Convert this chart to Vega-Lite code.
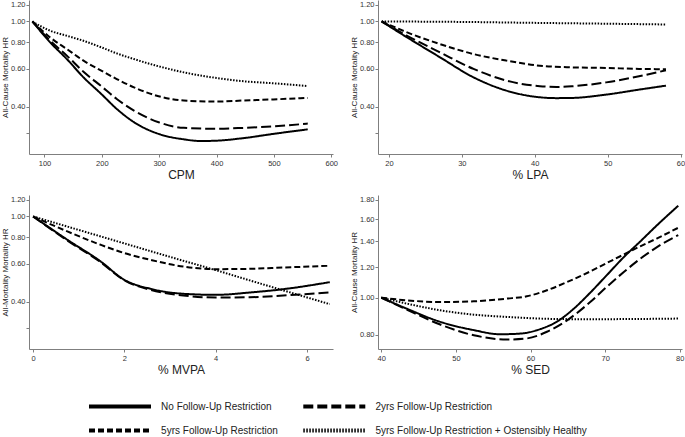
{
  "$schema": "https://vega.github.io/schema/vega-lite/v6.json",
  "background": "white",
  "padding": {"left": 1, "top": 0, "right": 0, "bottom": 0},
  "bounds": "flush",
  "columns": 2,
  "spacing": {"row": 41, "column": 45},
  "data": {"values": [
    {"p":"CPM","g":"No Follow-Up Restriction","x":79,"hr":1.0},
    {"p":"CPM","g":"No Follow-Up Restriction","x":110,"hr":0.798},
    {"p":"CPM","g":"No Follow-Up Restriction","x":139,"hr":0.667},
    {"p":"CPM","g":"No Follow-Up Restriction","x":168,"hr":0.548},
    {"p":"CPM","g":"No Follow-Up Restriction","x":199,"hr":0.458},
    {"p":"CPM","g":"No Follow-Up Restriction","x":226,"hr":0.39},
    {"p":"CPM","g":"No Follow-Up Restriction","x":256,"hr":0.338},
    {"p":"CPM","g":"No Follow-Up Restriction","x":299,"hr":0.298},
    {"p":"CPM","g":"No Follow-Up Restriction","x":343,"hr":0.281},
    {"p":"CPM","g":"No Follow-Up Restriction","x":372,"hr":0.276},
    {"p":"CPM","g":"No Follow-Up Restriction","x":400,"hr":0.277},
    {"p":"CPM","g":"No Follow-Up Restriction","x":448,"hr":0.285},
    {"p":"CPM","g":"No Follow-Up Restriction","x":499,"hr":0.298},
    {"p":"CPM","g":"No Follow-Up Restriction","x":559,"hr":0.313},
    {"p":"CPM","g":"2yrs Follow-Up Restriction","x":79,"hr":1.0},
    {"p":"CPM","g":"2yrs Follow-Up Restriction","x":110,"hr":0.813},
    {"p":"CPM","g":"2yrs Follow-Up Restriction","x":139,"hr":0.692},
    {"p":"CPM","g":"2yrs Follow-Up Restriction","x":168,"hr":0.582},
    {"p":"CPM","g":"2yrs Follow-Up Restriction","x":199,"hr":0.498},
    {"p":"CPM","g":"2yrs Follow-Up Restriction","x":226,"hr":0.434},
    {"p":"CPM","g":"2yrs Follow-Up Restriction","x":256,"hr":0.383},
    {"p":"CPM","g":"2yrs Follow-Up Restriction","x":299,"hr":0.338},
    {"p":"CPM","g":"2yrs Follow-Up Restriction","x":343,"hr":0.318},
    {"p":"CPM","g":"2yrs Follow-Up Restriction","x":400,"hr":0.315},
    {"p":"CPM","g":"2yrs Follow-Up Restriction","x":448,"hr":0.318},
    {"p":"CPM","g":"2yrs Follow-Up Restriction","x":499,"hr":0.323},
    {"p":"CPM","g":"2yrs Follow-Up Restriction","x":559,"hr":0.333},
    {"p":"CPM","g":"5yrs Follow-Up Restriction","x":79,"hr":1.0},
    {"p":"CPM","g":"5yrs Follow-Up Restriction","x":110,"hr":0.842},
    {"p":"CPM","g":"5yrs Follow-Up Restriction","x":139,"hr":0.743},
    {"p":"CPM","g":"5yrs Follow-Up Restriction","x":168,"hr":0.656},
    {"p":"CPM","g":"5yrs Follow-Up Restriction","x":199,"hr":0.589},
    {"p":"CPM","g":"5yrs Follow-Up Restriction","x":226,"hr":0.538},
    {"p":"CPM","g":"5yrs Follow-Up Restriction","x":256,"hr":0.492},
    {"p":"CPM","g":"5yrs Follow-Up Restriction","x":299,"hr":0.447},
    {"p":"CPM","g":"5yrs Follow-Up Restriction","x":343,"hr":0.427},
    {"p":"CPM","g":"5yrs Follow-Up Restriction","x":400,"hr":0.422},
    {"p":"CPM","g":"5yrs Follow-Up Restriction","x":448,"hr":0.427},
    {"p":"CPM","g":"5yrs Follow-Up Restriction","x":499,"hr":0.432},
    {"p":"CPM","g":"5yrs Follow-Up Restriction","x":559,"hr":0.439},
    {"p":"CPM","g":"5yrs Follow-Up Restriction + Ostensibly Healthy","x":79,"hr":1.0},
    {"p":"CPM","g":"5yrs Follow-Up Restriction + Ostensibly Healthy","x":92,"hr":0.954},
    {"p":"CPM","g":"5yrs Follow-Up Restriction + Ostensibly Healthy","x":110,"hr":0.905},
    {"p":"CPM","g":"5yrs Follow-Up Restriction + Ostensibly Healthy","x":139,"hr":0.857},
    {"p":"CPM","g":"5yrs Follow-Up Restriction + Ostensibly Healthy","x":168,"hr":0.812},
    {"p":"CPM","g":"5yrs Follow-Up Restriction + Ostensibly Healthy","x":199,"hr":0.757},
    {"p":"CPM","g":"5yrs Follow-Up Restriction + Ostensibly Healthy","x":226,"hr":0.709},
    {"p":"CPM","g":"5yrs Follow-Up Restriction + Ostensibly Healthy","x":256,"hr":0.667},
    {"p":"CPM","g":"5yrs Follow-Up Restriction + Ostensibly Healthy","x":299,"hr":0.617},
    {"p":"CPM","g":"5yrs Follow-Up Restriction + Ostensibly Healthy","x":343,"hr":0.578},
    {"p":"CPM","g":"5yrs Follow-Up Restriction + Ostensibly Healthy","x":400,"hr":0.544},
    {"p":"CPM","g":"5yrs Follow-Up Restriction + Ostensibly Healthy","x":448,"hr":0.525},
    {"p":"CPM","g":"5yrs Follow-Up Restriction + Ostensibly Healthy","x":499,"hr":0.514},
    {"p":"CPM","g":"5yrs Follow-Up Restriction + Ostensibly Healthy","x":559,"hr":0.499},

    {"p":"LPA","g":"No Follow-Up Restriction","x":19,"hr":1.0},
    {"p":"LPA","g":"No Follow-Up Restriction","x":22.5,"hr":0.842},
    {"p":"LPA","g":"No Follow-Up Restriction","x":27,"hr":0.68},
    {"p":"LPA","g":"No Follow-Up Restriction","x":31.6,"hr":0.548},
    {"p":"LPA","g":"No Follow-Up Restriction","x":36.1,"hr":0.475},
    {"p":"LPA","g":"No Follow-Up Restriction","x":40.7,"hr":0.442},
    {"p":"LPA","g":"No Follow-Up Restriction","x":43,"hr":0.438},
    {"p":"LPA","g":"No Follow-Up Restriction","x":45.2,"hr":0.439},
    {"p":"LPA","g":"No Follow-Up Restriction","x":49.8,"hr":0.455},
    {"p":"LPA","g":"No Follow-Up Restriction","x":54.3,"hr":0.48},
    {"p":"LPA","g":"No Follow-Up Restriction","x":58,"hr":0.501},
    {"p":"LPA","g":"2yrs Follow-Up Restriction","x":19,"hr":1.0},
    {"p":"LPA","g":"2yrs Follow-Up Restriction","x":22.5,"hr":0.857},
    {"p":"LPA","g":"2yrs Follow-Up Restriction","x":27,"hr":0.717},
    {"p":"LPA","g":"2yrs Follow-Up Restriction","x":31.6,"hr":0.6},
    {"p":"LPA","g":"2yrs Follow-Up Restriction","x":36.1,"hr":0.529},
    {"p":"LPA","g":"2yrs Follow-Up Restriction","x":40.7,"hr":0.498},
    {"p":"LPA","g":"2yrs Follow-Up Restriction","x":43,"hr":0.494},
    {"p":"LPA","g":"2yrs Follow-Up Restriction","x":45.2,"hr":0.498},
    {"p":"LPA","g":"2yrs Follow-Up Restriction","x":49.8,"hr":0.519},
    {"p":"LPA","g":"2yrs Follow-Up Restriction","x":54.3,"hr":0.554},
    {"p":"LPA","g":"2yrs Follow-Up Restriction","x":58,"hr":0.591},
    {"p":"LPA","g":"5yrs Follow-Up Restriction","x":19,"hr":1.0},
    {"p":"LPA","g":"5yrs Follow-Up Restriction","x":22.5,"hr":0.889},
    {"p":"LPA","g":"5yrs Follow-Up Restriction","x":27,"hr":0.784},
    {"p":"LPA","g":"5yrs Follow-Up Restriction","x":31.6,"hr":0.704},
    {"p":"LPA","g":"5yrs Follow-Up Restriction","x":36.1,"hr":0.656},
    {"p":"LPA","g":"5yrs Follow-Up Restriction","x":40.7,"hr":0.621},
    {"p":"LPA","g":"5yrs Follow-Up Restriction","x":45.2,"hr":0.61},
    {"p":"LPA","g":"5yrs Follow-Up Restriction","x":49.8,"hr":0.606},
    {"p":"LPA","g":"5yrs Follow-Up Restriction","x":54.3,"hr":0.6},
    {"p":"LPA","g":"5yrs Follow-Up Restriction","x":58,"hr":0.598},
    {"p":"LPA","g":"5yrs Follow-Up Restriction + Ostensibly Healthy","x":19,"hr":1.0},
    {"p":"LPA","g":"5yrs Follow-Up Restriction + Ostensibly Healthy","x":30,"hr":0.995},
    {"p":"LPA","g":"5yrs Follow-Up Restriction + Ostensibly Healthy","x":40,"hr":0.985},
    {"p":"LPA","g":"5yrs Follow-Up Restriction + Ostensibly Healthy","x":50,"hr":0.976},
    {"p":"LPA","g":"5yrs Follow-Up Restriction + Ostensibly Healthy","x":58,"hr":0.968},

    {"p":"MVPA","g":"No Follow-Up Restriction","x":0,"hr":1.0},
    {"p":"MVPA","g":"No Follow-Up Restriction","x":0.75,"hr":0.778},
    {"p":"MVPA","g":"No Follow-Up Restriction","x":1.48,"hr":0.616},
    {"p":"MVPA","g":"No Follow-Up Restriction","x":2,"hr":0.505},
    {"p":"MVPA","g":"No Follow-Up Restriction","x":2.57,"hr":0.459},
    {"p":"MVPA","g":"No Follow-Up Restriction","x":3.29,"hr":0.435},
    {"p":"MVPA","g":"No Follow-Up Restriction","x":4,"hr":0.43},
    {"p":"MVPA","g":"No Follow-Up Restriction","x":4.75,"hr":0.441},
    {"p":"MVPA","g":"No Follow-Up Restriction","x":5.48,"hr":0.457},
    {"p":"MVPA","g":"No Follow-Up Restriction","x":6.5,"hr":0.493},
    {"p":"MVPA","g":"2yrs Follow-Up Restriction","x":0,"hr":1.0},
    {"p":"MVPA","g":"2yrs Follow-Up Restriction","x":0.75,"hr":0.772},
    {"p":"MVPA","g":"2yrs Follow-Up Restriction","x":1.48,"hr":0.611},
    {"p":"MVPA","g":"2yrs Follow-Up Restriction","x":2,"hr":0.503},
    {"p":"MVPA","g":"2yrs Follow-Up Restriction","x":2.57,"hr":0.454},
    {"p":"MVPA","g":"2yrs Follow-Up Restriction","x":3.29,"hr":0.427},
    {"p":"MVPA","g":"2yrs Follow-Up Restriction","x":4,"hr":0.418},
    {"p":"MVPA","g":"2yrs Follow-Up Restriction","x":4.75,"hr":0.419},
    {"p":"MVPA","g":"2yrs Follow-Up Restriction","x":5.48,"hr":0.427},
    {"p":"MVPA","g":"2yrs Follow-Up Restriction","x":6.5,"hr":0.441},
    {"p":"MVPA","g":"5yrs Follow-Up Restriction","x":0,"hr":1.0},
    {"p":"MVPA","g":"5yrs Follow-Up Restriction","x":0.75,"hr":0.851},
    {"p":"MVPA","g":"5yrs Follow-Up Restriction","x":1.48,"hr":0.737},
    {"p":"MVPA","g":"5yrs Follow-Up Restriction","x":2,"hr":0.674},
    {"p":"MVPA","g":"5yrs Follow-Up Restriction","x":2.57,"hr":0.627},
    {"p":"MVPA","g":"5yrs Follow-Up Restriction","x":3.29,"hr":0.583},
    {"p":"MVPA","g":"5yrs Follow-Up Restriction","x":4,"hr":0.567},
    {"p":"MVPA","g":"5yrs Follow-Up Restriction","x":4.75,"hr":0.569},
    {"p":"MVPA","g":"5yrs Follow-Up Restriction","x":5.48,"hr":0.577},
    {"p":"MVPA","g":"5yrs Follow-Up Restriction","x":6.5,"hr":0.588},
    {"p":"MVPA","g":"5yrs Follow-Up Restriction + Ostensibly Healthy","x":0,"hr":1.0},
    {"p":"MVPA","g":"5yrs Follow-Up Restriction + Ostensibly Healthy","x":1,"hr":0.865},
    {"p":"MVPA","g":"5yrs Follow-Up Restriction + Ostensibly Healthy","x":2,"hr":0.748},
    {"p":"MVPA","g":"5yrs Follow-Up Restriction + Ostensibly Healthy","x":3,"hr":0.647},
    {"p":"MVPA","g":"5yrs Follow-Up Restriction + Ostensibly Healthy","x":4,"hr":0.561},
    {"p":"MVPA","g":"5yrs Follow-Up Restriction + Ostensibly Healthy","x":5,"hr":0.484},
    {"p":"MVPA","g":"5yrs Follow-Up Restriction + Ostensibly Healthy","x":6.5,"hr":0.389},

    {"p":"SED","g":"No Follow-Up Restriction","x":40,"hr":1.0},
    {"p":"SED","g":"No Follow-Up Restriction","x":43.4,"hr":0.936},
    {"p":"SED","g":"No Follow-Up Restriction","x":47.9,"hr":0.865},
    {"p":"SED","g":"No Follow-Up Restriction","x":52.4,"hr":0.823},
    {"p":"SED","g":"No Follow-Up Restriction","x":55.9,"hr":0.803},
    {"p":"SED","g":"No Follow-Up Restriction","x":58.6,"hr":0.806},
    {"p":"SED","g":"No Follow-Up Restriction","x":61.3,"hr":0.828},
    {"p":"SED","g":"No Follow-Up Restriction","x":63.5,"hr":0.865},
    {"p":"SED","g":"No Follow-Up Restriction","x":65.8,"hr":0.936},
    {"p":"SED","g":"No Follow-Up Restriction","x":68,"hr":1.03},
    {"p":"SED","g":"No Follow-Up Restriction","x":70.2,"hr":1.143},
    {"p":"SED","g":"No Follow-Up Restriction","x":72.5,"hr":1.275},
    {"p":"SED","g":"No Follow-Up Restriction","x":74.7,"hr":1.4},
    {"p":"SED","g":"No Follow-Up Restriction","x":76.9,"hr":1.54},
    {"p":"SED","g":"No Follow-Up Restriction","x":79.8,"hr":1.735},
    {"p":"SED","g":"2yrs Follow-Up Restriction","x":40,"hr":1.0},
    {"p":"SED","g":"2yrs Follow-Up Restriction","x":43.4,"hr":0.931},
    {"p":"SED","g":"2yrs Follow-Up Restriction","x":47.9,"hr":0.851},
    {"p":"SED","g":"2yrs Follow-Up Restriction","x":52.4,"hr":0.798},
    {"p":"SED","g":"2yrs Follow-Up Restriction","x":56.8,"hr":0.778},
    {"p":"SED","g":"2yrs Follow-Up Restriction","x":59.5,"hr":0.783},
    {"p":"SED","g":"2yrs Follow-Up Restriction","x":62.2,"hr":0.815},
    {"p":"SED","g":"2yrs Follow-Up Restriction","x":64.9,"hr":0.873},
    {"p":"SED","g":"2yrs Follow-Up Restriction","x":68,"hr":0.974},
    {"p":"SED","g":"2yrs Follow-Up Restriction","x":70.2,"hr":1.066},
    {"p":"SED","g":"2yrs Follow-Up Restriction","x":72.5,"hr":1.166},
    {"p":"SED","g":"2yrs Follow-Up Restriction","x":74.7,"hr":1.262},
    {"p":"SED","g":"2yrs Follow-Up Restriction","x":76.9,"hr":1.352},
    {"p":"SED","g":"2yrs Follow-Up Restriction","x":79.8,"hr":1.455},
    {"p":"SED","g":"5yrs Follow-Up Restriction","x":40,"hr":1.0},
    {"p":"SED","g":"5yrs Follow-Up Restriction","x":43.4,"hr":0.984},
    {"p":"SED","g":"5yrs Follow-Up Restriction","x":47.9,"hr":0.974},
    {"p":"SED","g":"5yrs Follow-Up Restriction","x":52.4,"hr":0.978},
    {"p":"SED","g":"5yrs Follow-Up Restriction","x":56.8,"hr":0.994},
    {"p":"SED","g":"5yrs Follow-Up Restriction","x":59.5,"hr":1.008},
    {"p":"SED","g":"5yrs Follow-Up Restriction","x":62.2,"hr":1.045},
    {"p":"SED","g":"5yrs Follow-Up Restriction","x":64.9,"hr":1.098},
    {"p":"SED","g":"5yrs Follow-Up Restriction","x":68,"hr":1.17},
    {"p":"SED","g":"5yrs Follow-Up Restriction","x":70.2,"hr":1.23},
    {"p":"SED","g":"5yrs Follow-Up Restriction","x":72.5,"hr":1.295},
    {"p":"SED","g":"5yrs Follow-Up Restriction","x":74.7,"hr":1.36},
    {"p":"SED","g":"5yrs Follow-Up Restriction","x":76.9,"hr":1.425},
    {"p":"SED","g":"5yrs Follow-Up Restriction","x":79.8,"hr":1.52},
    {"p":"SED","g":"5yrs Follow-Up Restriction + Ostensibly Healthy","x":40,"hr":1.0},
    {"p":"SED","g":"5yrs Follow-Up Restriction + Ostensibly Healthy","x":43.4,"hr":0.965},
    {"p":"SED","g":"5yrs Follow-Up Restriction + Ostensibly Healthy","x":47.9,"hr":0.927},
    {"p":"SED","g":"5yrs Follow-Up Restriction + Ostensibly Healthy","x":52.4,"hr":0.903},
    {"p":"SED","g":"5yrs Follow-Up Restriction + Ostensibly Healthy","x":56.8,"hr":0.891},
    {"p":"SED","g":"5yrs Follow-Up Restriction + Ostensibly Healthy","x":61.3,"hr":0.882},
    {"p":"SED","g":"5yrs Follow-Up Restriction + Ostensibly Healthy","x":65.8,"hr":0.879},
    {"p":"SED","g":"5yrs Follow-Up Restriction + Ostensibly Healthy","x":70.2,"hr":0.879},
    {"p":"SED","g":"5yrs Follow-Up Restriction + Ostensibly Healthy","x":74.7,"hr":0.88},
    {"p":"SED","g":"5yrs Follow-Up Restriction + Ostensibly Healthy","x":79.8,"hr":0.882}
  ]},
  "concat": [
    {
      "width": 304, "height": 154,
      "transform": [{"filter": "datum.p === 'CPM'"}],
      "mark": {"type": "line", "interpolate": "monotone", "strokeWidth": 2, "color": "black"},
      "encoding": {
        "x": {"field": "x", "type": "quantitative", "scale": {"domain": [73, 603], "nice": false, "zero": false}, "axis": {"title": "CPM", "values": [100, 200, 300, 400, 500, 600]}},
        "y": {"field": "hr", "type": "quantitative", "scale": {"type": "log", "domain": [0.24, 1.26], "nice": false}, "axis": {"title": "All-Cause Mortality HR", "values": [0.3, 0.4, 0.6, 0.8, 1.0, 1.2], "labelExpr": "datum.value < 0.35 ? '' : format(datum.value, '.2f')"}},
        "strokeDash": {"field": "g", "type": "nominal", "scale": {"domain": ["No Follow-Up Restriction", "5yrs Follow-Up Restriction", "2yrs Follow-Up Restriction", "5yrs Follow-Up Restriction + Ostensibly Healthy"], "range": [[1, 0], [6, 3], [10, 4], [1.5, 1.5]]}, "legend": {"encode": {"symbols": {"update": {"strokeDash": {"signal": "datum.value === '2yrs Follow-Up Restriction' ? [19, 4.5] : datum.value === '5yrs Follow-Up Restriction' ? [9, 5] : datum.value === '5yrs Follow-Up Restriction + Ostensibly Healthy' ? [3.5, 3.5] : [1, 0]"}}}}}}
      }
    },
    {
      "width": 304, "height": 154,
      "transform": [{"filter": "datum.p === 'LPA'"}],
      "mark": {"type": "line", "interpolate": "monotone", "strokeWidth": 2, "color": "black"},
      "encoding": {
        "x": {"field": "x", "type": "quantitative", "scale": {"domain": [18.5, 60.2], "nice": false, "zero": false}, "axis": {"title": "% LPA", "values": [20, 30, 40, 50, 60]}},
        "y": {"field": "hr", "type": "quantitative", "scale": {"type": "log", "domain": [0.24, 1.26], "nice": false}, "axis": {"title": "All-Cause Mortality HR", "values": [0.3, 0.4, 0.6, 0.8, 1.0, 1.2], "labelExpr": "datum.value < 0.35 ? '' : format(datum.value, '.2f')"}},
        "strokeDash": {"field": "g", "type": "nominal", "scale": {"domain": ["No Follow-Up Restriction", "5yrs Follow-Up Restriction", "2yrs Follow-Up Restriction", "5yrs Follow-Up Restriction + Ostensibly Healthy"], "range": [[1, 0], [6, 3], [10, 4], [1.5, 1.5]]}, "legend": {"encode": {"symbols": {"update": {"strokeDash": {"signal": "datum.value === '2yrs Follow-Up Restriction' ? [19, 4.5] : datum.value === '5yrs Follow-Up Restriction' ? [9, 5] : datum.value === '5yrs Follow-Up Restriction + Ostensibly Healthy' ? [3.5, 3.5] : [1, 0]"}}}}}}
      }
    },
    {
      "width": 304, "height": 154,
      "transform": [{"filter": "datum.p === 'MVPA'"}],
      "mark": {"type": "line", "interpolate": "monotone", "strokeWidth": 2, "color": "black"},
      "encoding": {
        "x": {"field": "x", "type": "quantitative", "scale": {"domain": [-0.09, 6.57], "nice": false, "zero": false}, "axis": {"title": "% MVPA", "values": [0, 2, 4, 6]}},
        "y": {"field": "hr", "type": "quantitative", "scale": {"type": "log", "domain": [0.24, 1.26], "nice": false}, "axis": {"title": "All-Mortality Mortality HR", "values": [0.3, 0.4, 0.6, 0.8, 1.0, 1.2], "labelExpr": "datum.value < 0.35 ? '' : format(datum.value, '.2f')"}},
        "strokeDash": {"field": "g", "type": "nominal", "scale": {"domain": ["No Follow-Up Restriction", "5yrs Follow-Up Restriction", "2yrs Follow-Up Restriction", "5yrs Follow-Up Restriction + Ostensibly Healthy"], "range": [[1, 0], [6, 3], [10, 4], [1.5, 1.5]]}, "legend": {"encode": {"symbols": {"update": {"strokeDash": {"signal": "datum.value === '2yrs Follow-Up Restriction' ? [19, 4.5] : datum.value === '5yrs Follow-Up Restriction' ? [9, 5] : datum.value === '5yrs Follow-Up Restriction + Ostensibly Healthy' ? [3.5, 3.5] : [1, 0]"}}}}}}
      }
    },
    {
      "width": 304, "height": 154,
      "transform": [{"filter": "datum.p === 'SED'"}],
      "mark": {"type": "line", "interpolate": "monotone", "strokeWidth": 2, "color": "black"},
      "encoding": {
        "x": {"field": "x", "type": "quantitative", "scale": {"domain": [39.56, 80.3], "nice": false, "zero": false}, "axis": {"title": "% SED", "values": [40, 50, 60, 70, 80]}},
        "y": {"field": "hr", "type": "quantitative", "scale": {"type": "log", "domain": [0.735, 1.85], "nice": false}, "axis": {"title": "All-Cause Mortality HR", "values": [0.8, 1.0, 1.2, 1.4, 1.6, 1.8], "format": ".2f"}},
        "strokeDash": {"field": "g", "type": "nominal", "scale": {"domain": ["No Follow-Up Restriction", "5yrs Follow-Up Restriction", "2yrs Follow-Up Restriction", "5yrs Follow-Up Restriction + Ostensibly Healthy"], "range": [[1, 0], [6, 3], [10, 4], [1.5, 1.5]]}, "legend": {"encode": {"symbols": {"update": {"strokeDash": {"signal": "datum.value === '2yrs Follow-Up Restriction' ? [19, 4.5] : datum.value === '5yrs Follow-Up Restriction' ? [9, 5] : datum.value === '5yrs Follow-Up Restriction + Ostensibly Healthy' ? [3.5, 3.5] : [1, 0]"}}}}}}
      }
    }
  ],
  "config": {
    "view": {"stroke": null},
    "axis": {"grid": false, "domainColor": "#7f7f7f", "tickColor": "#7f7f7f", "tickSize": 3, "labelFont": "Liberation Sans", "labelFontSize": 7.5, "labelColor": "#333333", "titleFont": "Liberation Sans", "titleFontWeight": "normal", "titleColor": "#222222", "labelPadding": 1},
    "axisY": {"titleFontSize": 8, "titlePadding": 1},
    "axisX": {"titleFontSize": 12, "titlePadding": 3, "labelPadding": 2},
    "legend": {
      "orient": "none", "legendX": 60, "legendY": 399.5, "title": null, "columns": 2, "padding": 0,
      "symbolType": "M-6.2,0H6.2", "symbolSize": 100, "symbolStrokeWidth": 4, "symbolStrokeColor": "black",
      "symbolOffset": 24, "labelOffset": 34.1, "rowPadding": 8, "columnPadding": 17.3,
      "labelFont": "Liberation Sans", "labelFontSize": 10, "labelColor": "#222222", "labelLimit": 400
    }
  }
}
